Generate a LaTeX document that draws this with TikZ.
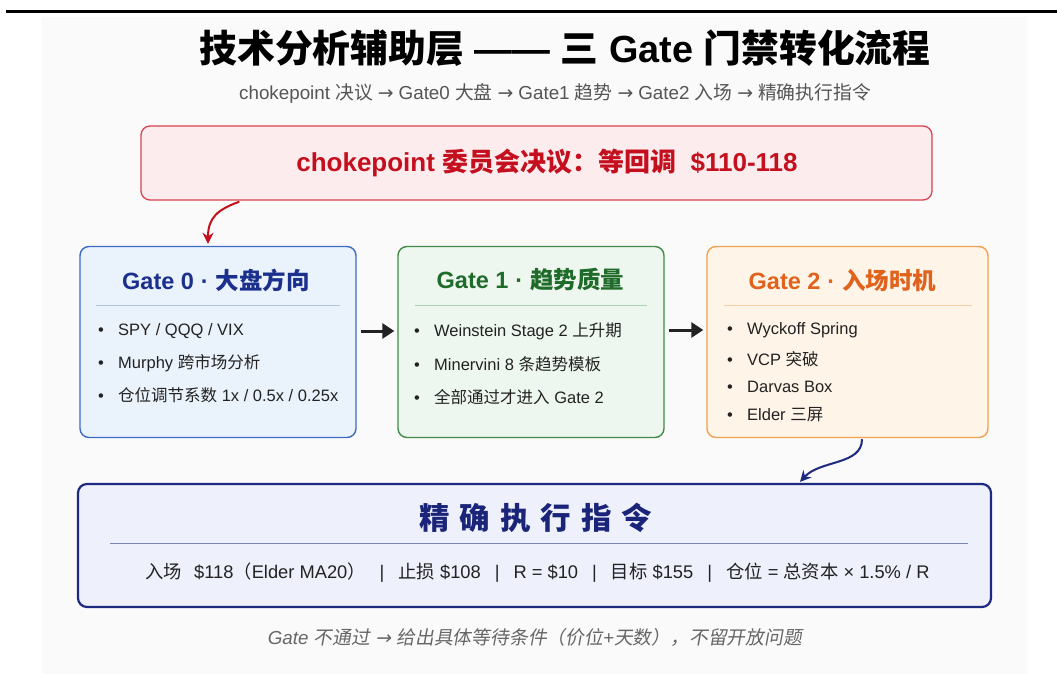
\documentclass[tikz,border=0pt]{standalone}
\usepackage{fontspec}
\usetikzlibrary{arrows.meta}
\setmainfont{Liberation Sans}
\newfontfamily\cjkfam{Noto Sans CJK SC}[AutoFakeSlant=0.18]
\newfontfamily\arrowfam{DejaVu Sans}[AutoFakeSlant=0.18]
\newcommand{\zh}[1]{{\cjkfam #1}}
\newcommand{\rarr}{{\arrowfam\mdseries →}}

\definecolor{panel}{HTML}{FAFAFA}
\definecolor{bodytxt}{HTML}{222222}
\definecolor{subgray}{HTML}{555555}
\definecolor{notegray}{HTML}{666666}
\definecolor{redfill}{HTML}{FDECEE}
\definecolor{redline}{HTML}{D9434F}
\definecolor{redtxt}{HTML}{C4101E}
\definecolor{bluefill}{HTML}{EAF2FC}
\definecolor{blueline}{HTML}{3D6BC4}
\definecolor{bluetxt}{HTML}{1B2F8C}
\definecolor{bluesep}{HTML}{B4C2DC}
\definecolor{greenfill}{HTML}{EEF7EF}
\definecolor{greenline}{HTML}{3F8B47}
\definecolor{greentxt}{HTML}{1F6B2A}
\definecolor{greensep}{HTML}{ADD0B0}
\definecolor{orangefill}{HTML}{FFF4E8}
\definecolor{orangeline}{HTML}{F2A24E}
\definecolor{orangetxt}{HTML}{E0621C}
\definecolor{orangesep}{HTML}{F5CDA6}
\definecolor{navyfill}{HTML}{EEF0FC}
\definecolor{navyline}{HTML}{1E2A80}
\definecolor{navytxt}{HTML}{1A2478}
\definecolor{navysep}{HTML}{7A86B8}
\definecolor{arrowblk}{HTML}{222222}

\tikzset{
  box/.style={draw, rounded corners=9pt, inner sep=0pt, line width=1.4pt},
  gatetitle/.style={font=\fontsize{23.5}{27}\selectfont\bfseries, inner sep=0pt},
  item/.style={font=\fontsize{16.5}{19}\selectfont, text=bodytxt, inner sep=0pt, anchor=west},
  flowarrow/.style={line width=3pt, draw=arrowblk, -{Triangle[length=12pt,width=15pt]}},
  curvearrow/.style={line width=2pt, -{Stealth[length=11pt,width=11pt]}},
  seprule/.style={line width=0.8pt},
}
\newcommand{\bul}{\makebox[20pt][l]{•}}
\newcommand{\gdot}{\hspace{7pt}·\hspace{7pt}}
\newcommand{\vbar}{\hspace{14pt}|\hspace{14pt}}
\newcommand{\sarr}{\hspace{5pt}\rarr\hspace{5pt}}

\begin{document}
\begin{tikzpicture}[x=1pt,y=-1pt]
\useasboundingbox (0,0) rectangle (1057,674);
\fill[panel] (42,17) rectangle (1027,674);
\fill[black] (6,10) rectangle (1057,13);

% title
\node[font=\fontsize{37.8}{42}\selectfont\bfseries, inner sep=0pt] (title) at (565,48)
  {\zh{技术分析辅助层} —— \zh{三} Gate \zh{门禁转化流程}};
\node[font=\fontsize{18.8}{21}\selectfont, text=subgray, inner sep=0pt] (subtitle) at (555,93)
  {chokepoint \zh{决议}\sarr Gate0 \zh{大盘}\sarr Gate1 \zh{趋势}\sarr Gate2 \zh{入场}\sarr\zh{精确执行指令}};

% red decision box
\node[box, fill=redfill, draw=redline, line width=1.3pt, minimum width=791pt, minimum height=74pt] (red) at (536.5,163) {};
\node[font=\fontsize{26}{30}\selectfont\bfseries, text=redtxt, inner sep=0pt] (redtext) at (547,163)
  {chokepoint \zh{委员会决议：等回调}\ \ \$110-118};

% Gate 0
\node[box, fill=bluefill, draw=blueline, minimum width=276pt, minimum height=191pt] (g0) at (218,342) {};
\node[gatetitle, text=bluetxt] (g0t) at (216,280) {Gate 0\gdot\zh{大盘方向}};
\draw[seprule, bluesep] (96,305) -- (340,305);
\node[item] (g0a) at (98,331) {\bul SPY / QQQ / VIX};
\node[item] (g0b) at (98,363) {\bul Murphy \zh{跨市场分析}};
\node[item] (g0c) at (98,395) {\bul \zh{仓位调节系数} 1x / 0.5x / 0.25x};

% Gate 1
\node[box, fill=greenfill, draw=greenline, minimum width=266pt, minimum height=191pt] (g1) at (531,342) {};
\node[gatetitle, text=greentxt] (g1t) at (530.5,280) {Gate 1\gdot\zh{趋势质量}};
\draw[seprule, greensep] (415,305) -- (647,305);
\node[item] (g1a) at (414,331) {\bul Weinstein Stage 2 \zh{上升期}};
\node[item] (g1b) at (414,364) {\bul Minervini 8 \zh{条趋势模板}};
\node[item] (g1c) at (414,397) {\bul \zh{全部通过才进入} Gate 2};

% Gate 2
\node[box, fill=orangefill, draw=orangeline, minimum width=281pt, minimum height=191pt] (g2) at (847.5,342) {};
\node[gatetitle, text=orangetxt] (g2t) at (842.5,281) {Gate 2\gdot\zh{入场时机}};
\draw[seprule, orangesep] (724,305) -- (972,305);
\node[item] (g2a) at (727,330) {\bul Wyckoff Spring};
\node[item] (g2b) at (727,359) {\bul VCP \zh{突破}};
\node[item] (g2c) at (727,387) {\bul Darvas Box};
\node[item] (g2d) at (727,415) {\bul Elder \zh{三屏}};

% bottom execution box
\node[box, fill=navyfill, draw=navyline, line width=2.2pt, minimum width=913pt, minimum height=123pt] (exec) at (534.5,545.5) {};
\node[font=\fontsize{30.5}{34}\selectfont\bfseries, text=navytxt, inner sep=0pt] (exect) at (536,518)
  {\zh{精\hspace{10pt}确\hspace{10pt}执\hspace{10pt}行\hspace{10pt}指\hspace{10pt}令}};
\draw[seprule, navysep] (110,543) -- (968,543);
\node[font=\fontsize{18.3}{21}\selectfont, text=bodytxt, inner sep=0pt] (execline) at (537.5,573)
  {\zh{入场}\hspace{12pt}\$118\zh{（}Elder MA20\zh{）}\vbar\zh{止损} \$108\vbar R = \$10\vbar\zh{目标} \$155\vbar\zh{仓位} = \zh{总资本} × 1.5\% / R};

% footnote
\node[font=\fontsize{18.8}{21}\selectfont\itshape, text=notegray, inner sep=0pt] (note) at (535,637)
  {Gate \zh{不通过} \rarr{} \zh{给出具体等待条件（价位}+\zh{天数），不留开放问题}};

% connectors
\draw[flowarrow] ([xshift=4pt,yshift=11pt]g0.east) -- ([xshift=-3pt,yshift=11pt]g1.west);
\draw[flowarrow] ([xshift=4pt,yshift=12pt]g1.east) -- ([xshift=-3pt,yshift=12pt]g2.west);
\draw[curvearrow, redtxt] ([xshift=99pt,yshift=-1pt]red.south west) .. controls +(-22,8) and +(0,-26) .. ([xshift=-10pt,yshift=2pt]g0.north);
\draw[curvearrow, navyline] ([xshift=14.5pt,yshift=-1pt]g2.south) .. controls +(0,26) and +(20,-22) .. ([xshift=265.5pt,yshift=1pt]exec.north);
\end{tikzpicture}
\end{document}
